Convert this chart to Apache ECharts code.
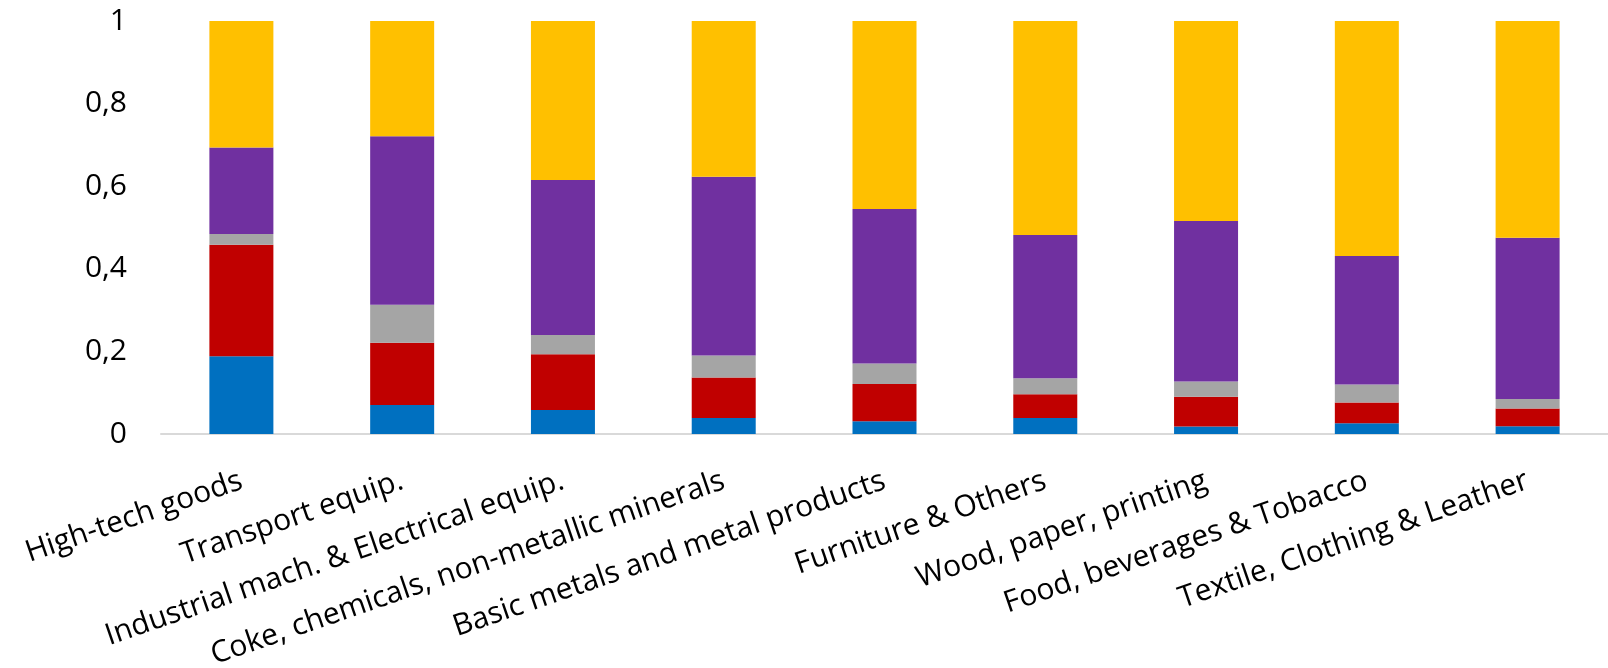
<!DOCTYPE html>
<html>
<head>
<meta charset="utf-8">
<script src="https://cdn.jsdelivr.net/npm/echarts@6/dist/echarts.min.js"></script>
<style>
  html, body { margin: 0; padding: 0; background: #fff; }
  #chart { width: 1608px; height: 668px; }
</style>
</head>
<body>
<div id="chart"></div>
<script>
// Sector categories along the x axis
const categories = [
  'High-tech goods',
  'Transport equip.',
  'Industrial mach. & Electrical equip.',
  'Coke, chemicals, non-metallic minerals',
  'Basic metals and metal products',
  'Furniture & Others',
  'Wood, paper, printing',
  'Food, beverages & Tobacco',
  'Textile, Clothing & Leather'
];

// Shares per sector, stacked bottom to top (each column sums to 1)
const blueShare   = [0.188, 0.070, 0.058, 0.039, 0.031, 0.039, 0.018, 0.026, 0.019];
const redShare    = [0.270, 0.151, 0.135, 0.098, 0.090, 0.057, 0.072, 0.050, 0.043];
const grayShare   = [0.026, 0.092, 0.047, 0.053, 0.050, 0.039, 0.037, 0.044, 0.023];
const purpleShare = [0.210, 0.408, 0.375, 0.433, 0.374, 0.347, 0.389, 0.311, 0.390];
const yellowShare = [0.306, 0.279, 0.385, 0.377, 0.455, 0.518, 0.484, 0.569, 0.525];

// Y axis tick values and their comma-decimal labels
const yTicks = [0, 0.2, 0.4, 0.6, 0.8, 1];
const yTickLabels = ['0', '0,2', '0,4', '0,6', '0,8', '1'];

const stackSeries = [
  { name: 'Blue', data: blueShare, color: '#0070C0' },
  { name: 'Red', data: redShare, color: '#C00000' },
  { name: 'Gray', data: grayShare, color: '#A5A5A5' },
  { name: 'Purple', data: purpleShare, color: '#7030A0' },
  { name: 'Yellow', data: yellowShare, color: '#FFC000' }
];

const FONT = '"Open Sans", "Noto Sans", sans-serif';

const chart = echarts.init(document.getElementById('chart'), null, { renderer: 'canvas' });
chart.setOption({
  animation: false,
  backgroundColor: '#ffffff',
  grid: {
    left: 161, right: 0, top: 21, bottom: 234,
    containLabel: false,
    outerBoundsMode: 'none'
  },
  xAxis: {
    type: 'category',
    data: categories,
    axisLine: { show: true, lineStyle: { color: '#D9D9D9', width: 2 } },
    axisTick: { show: false },
    axisLabel: {
      rotate: 19,
      interval: 0,
      margin: 46,
      color: '#000000',
      fontFamily: FONT,
      fontSize: 30
    }
  },
  yAxis: {
    type: 'value',
    min: 0,
    max: 1,
    interval: 0.2,
    splitLine: { show: false },
    axisLine: { show: false },
    axisTick: { show: false },
    axisLabel: {
      margin: 34,
      color: '#000000',
      fontFamily: FONT,
      fontSize: 30,
      formatter: function (v) {
        const i = yTicks.findIndex(t => Math.abs(t - v) < 1e-9);
        return i >= 0 ? yTickLabels[i] : '';
      }
    }
  },
  series: stackSeries.map(s => ({
    name: s.name,
    type: 'bar',
    stack: 'total',
    barWidth: 64,
    data: s.data,
    itemStyle: { color: s.color }
  }))
});
</script>
</body>
</html>
